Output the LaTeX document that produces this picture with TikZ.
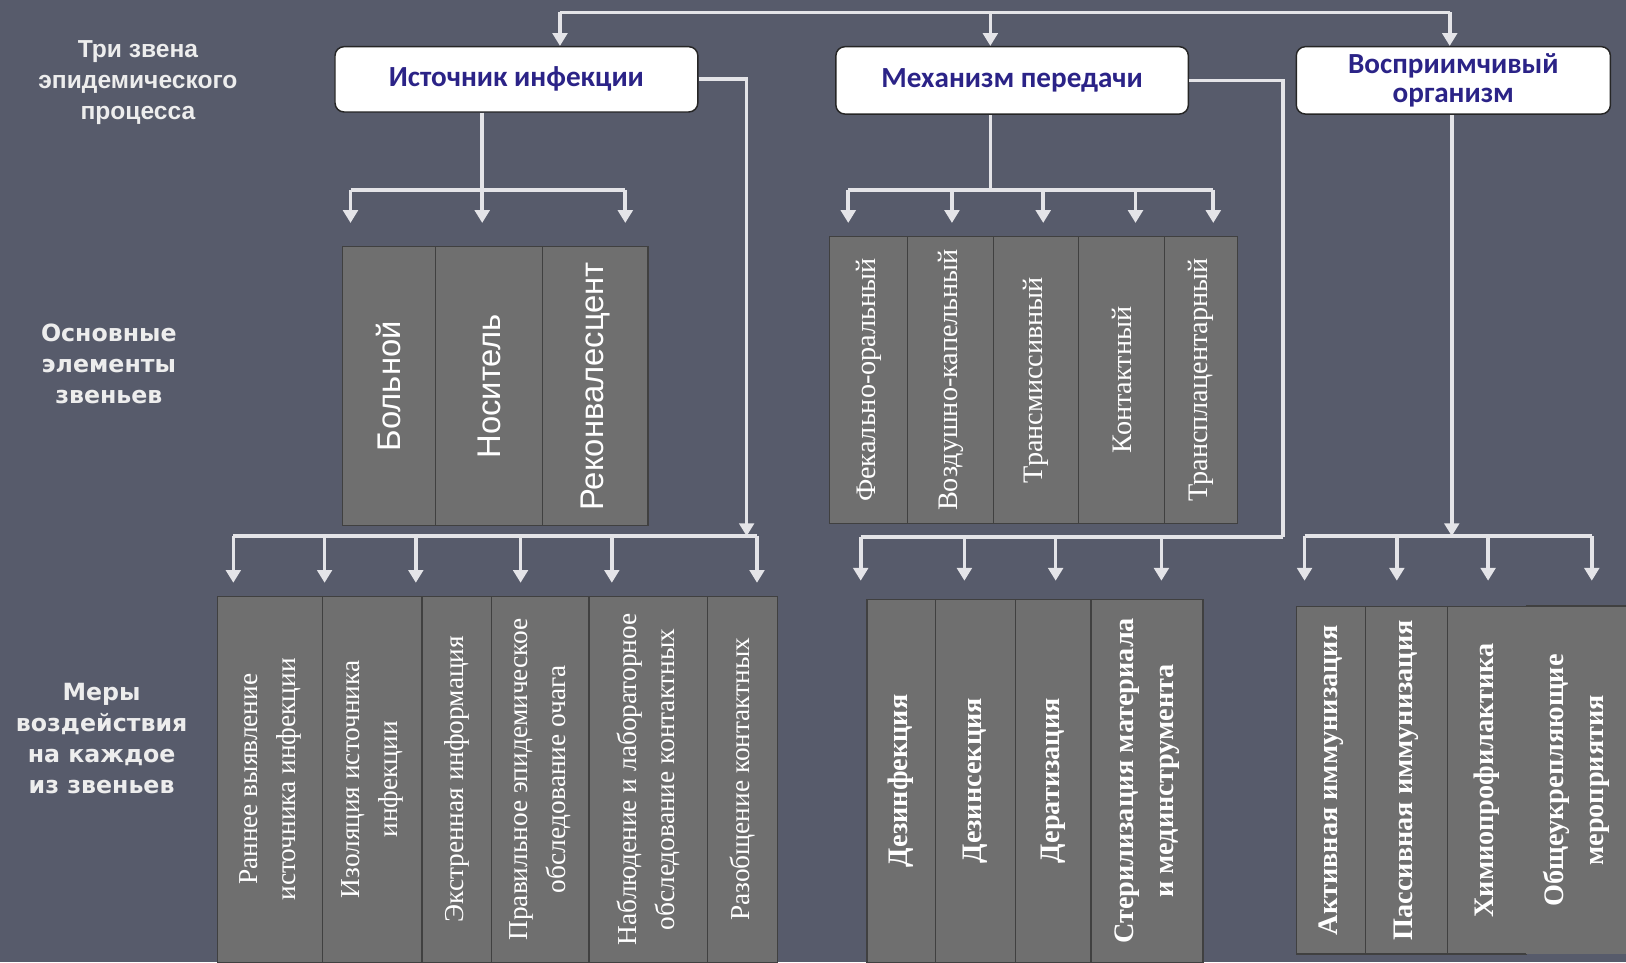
\documentclass[tikz,border=0pt]{standalone}
\usepackage{fontspec}
\setmainfont{Liberation Serif}
\setsansfont{Liberation Sans}
\newfontfamily\headfont{Carlito}
\newfontfamily\sidefont{DejaVu Sans}
\usetikzlibrary{arrows.meta}
\definecolor{slate}{HTML}{575B6B}
\definecolor{cellgray}{HTML}{6F6F6F}
\definecolor{wire}{HTML}{E4E4E8}
\definecolor{navy}{HTML}{2B2387}
\definecolor{sidetext}{HTML}{EDEDED}

\begin{document}
\begin{tikzpicture}[x=0.02cm, y=-0.02cm,
  >={Triangle[width=8pt,length=7pt]},
  link/.style={draw=wire, line width=2pt},
  head/.style={draw=black!85, fill=white, rounded corners=5pt, line width=0.8pt,
    font=\headfont\bfseries\fontsize{16}{16}\selectfont, text=navy, align=center},
  side/.style={text=sidetext, align=center, font=\sidefont\bfseries\fontsize{13}{17}\selectfont},
  cell/.style={draw=black!75, line width=0.7pt, fill=cellgray, text=white, rotate=90,
    inner sep=0pt, align=center},
  elem/.style={cell, font=\sffamily\fontsize{18}{20}\selectfont},
  kind/.style={cell, font=\fontsize{15.5}{18}\selectfont},
  act/.style={cell, font=\fontsize{15}{21}\selectfont},
  bact/.style={cell, font=\bfseries\fontsize{15.5}{22}\selectfont}]
  \useasboundingbox[fill=slate] (0,0) rectangle (1568,928);

  % row titles
  \node[side, font=\sffamily\bfseries\fontsize{13.5}{17}\selectfont] (lk) at (133,80) {Три звена\\эпидемического\\процесса};
  \node[side] (le) at (105,351) {Основные\\элементы\\звеньев};
  \node[side] (lm) at (98,712) {Меры\\воздействия\\на каждое\\из звеньев};

  % the three links
  \node[head, minimum width=7cm, minimum height=1.26cm] (src) at (498,76.5) {Источник инфекции};
  \node[head, minimum width=6.8cm, minimum height=1.3cm] (mech) at (976,77.5) {Механизм передачи};
  \node[head, minimum width=6.06cm, minimum height=1.3cm] (host) at (1401.5,77.5) {Восприимчивый\\организм};

  % elements
  \node[elem, minimum width=5.38cm, minimum height=1.8cm] (e1) at (375,372.5) {Больной};
  \node[elem, minimum width=5.38cm, minimum height=2.06cm] (e2) at (471.5,372.5) {Носитель};
  \node[elem, minimum width=5.38cm, minimum height=2.04cm] (e3) at (574,372.5) {Реконвалесцент};

  \node[kind, minimum width=5.54cm, minimum height=1.5cm] (k1) at (837.5,366.5) {Фекально-оральный};
  \node[kind, minimum width=5.54cm, minimum height=1.66cm] (k2) at (916.5,366.5) {Воздушно-капельный};
  \node[kind, minimum width=5.54cm, minimum height=1.64cm] (k3) at (999,366.5) {Трансмиссивный};
  \node[kind, minimum width=5.54cm, minimum height=1.66cm] (k4) at (1081.5,366.5) {Контактный};
  \node[kind, minimum width=5.54cm, minimum height=1.4cm] (k5) at (1158,366.5) {Трансплацентарный};

  % measures
  \node[act, minimum width=7.06cm, minimum height=2.02cm] (m1) at (260.5,751.5) {Раннее выявление\\источника инфекции};
  \node[act, minimum width=7.06cm, minimum height=1.92cm] (m2) at (359,751.5) {Изоляция источника\\инфекции};
  \node[act, minimum width=7.06cm, minimum height=1.34cm] (m3) at (440.5,751.5) {Экстренная информация};
  \node[act, minimum width=7.06cm, minimum height=1.88cm] (m4) at (521,751.5) {Правильное эпидемическое\\обследование очага};
  \node[act, minimum width=7.06cm, minimum height=2.28cm] (m5) at (625,751.5) {Наблюдение и лабораторное\\обследование контактных};
  \node[act, minimum width=7.06cm, minimum height=1.36cm] (m6) at (716,751.5) {Разобщение контактных};

  \node[bact, minimum width=7cm, minimum height=1.32cm] (d1) at (869,753) {Дезинфекция};
  \node[bact, minimum width=7cm, minimum height=1.54cm] (d2) at (940.5,753) {Дезинсекция};
  \node[bact, minimum width=7cm, minimum height=1.46cm] (d3) at (1015.5,753) {Дератизация};
  \node[bact, minimum width=7cm, minimum height=2.16cm] (d4) at (1106,753) {Стерилизация материала\\и мединструмента};

  \node[bact, minimum width=6.7cm, minimum height=1.34cm] (h1) at (1283.5,752.5) {Активная иммунизация};
  \node[bact, minimum width=6.7cm, minimum height=1.58cm] (h2) at (1356.5,752.5) {Пассивная иммунизация};
  \node[bact, minimum width=6.7cm, minimum height=1.52cm] (h3) at (1434,752.5) {Химиопрофилактика};
  \node[bact, draw=none, minimum width=6.7cm, minimum height=1.92cm] (h4) at (1520,752.5) {Общеукрепляющие\\мероприятия};
  \draw[black!75, line width=0.7pt] (h4.north east) -- (h4.south east);

  % top bar
  \coordinate (t1) at (540,12);
  \coordinate (t2) at (955,12);
  \coordinate (t3) at (1398,12);
  \draw[link] (t1) -- (t3);
  \draw[link,->] (t1) -- (t1 |- src.north);
  \draw[link,->] (t2) -- (t2 |- mech.north);
  \draw[link,->] (t3) -- (t3 |- host.north);

  % links to elements
  \coordinate (sj) at (465,183);
  \coordinate (mj) at (955,183);
  \draw[link] (sj |- src.south) -- (sj);
  \draw[link] (mj |- mech.south) -- (mj);
  \foreach \x [count=\i] in {338,465,603} \coordinate (sa\i) at (\x,215);
  \foreach \x [count=\i] in {818,918,1006,1095,1170} \coordinate (ma\i) at (\x,215);
  \draw[link] (sa1 |- sj) -- (sa3 |- sj);
  \draw[link] (ma1 |- mj) -- (ma5 |- mj);
  \foreach \i in {1,2,3} \draw[link,->] (sa\i |- sj) -- (sa\i);
  \foreach \i in {1,...,5} \draw[link,->] (ma\i |- mj) -- (ma\i);

  % links to measures
  \coordinate (sb) at (720,517);
  \coordinate (mb) at (1237,518);
  \coordinate (hb) at (1400,517);
  \draw[link,->] (src.east) -| (sb);
  \draw[link] (mech.east) -| (mb);
  \draw[link,->] (hb |- host.south) -- (hb);
  \foreach \x [count=\i] in {225,313,401,502,590,730} \coordinate (sm\i) at (\x,562);
  \foreach \x [count=\i] in {830,930,1018,1120} \coordinate (mm\i) at (\x,560);
  \foreach \x [count=\i] in {1258,1347,1435,1535} \coordinate (hm\i) at (\x,560);
  \draw[link] (sm1 |- sb) -- (sm6 |- sb);
  \draw[link] (mm1 |- mb) -- (mb);
  \draw[link] (hm1 |- hb) -- (hm4 |- hb);
  \foreach \i in {1,...,6} \draw[link,->] (sm\i |- sb) -- (sm\i);
  \foreach \i in {1,...,4} \draw[link,->] (mm\i |- mb) -- (mm\i);
  \foreach \i in {1,...,4} \draw[link,->] (hm\i |- hb) -- (hm\i);
\end{tikzpicture}
\end{document}
